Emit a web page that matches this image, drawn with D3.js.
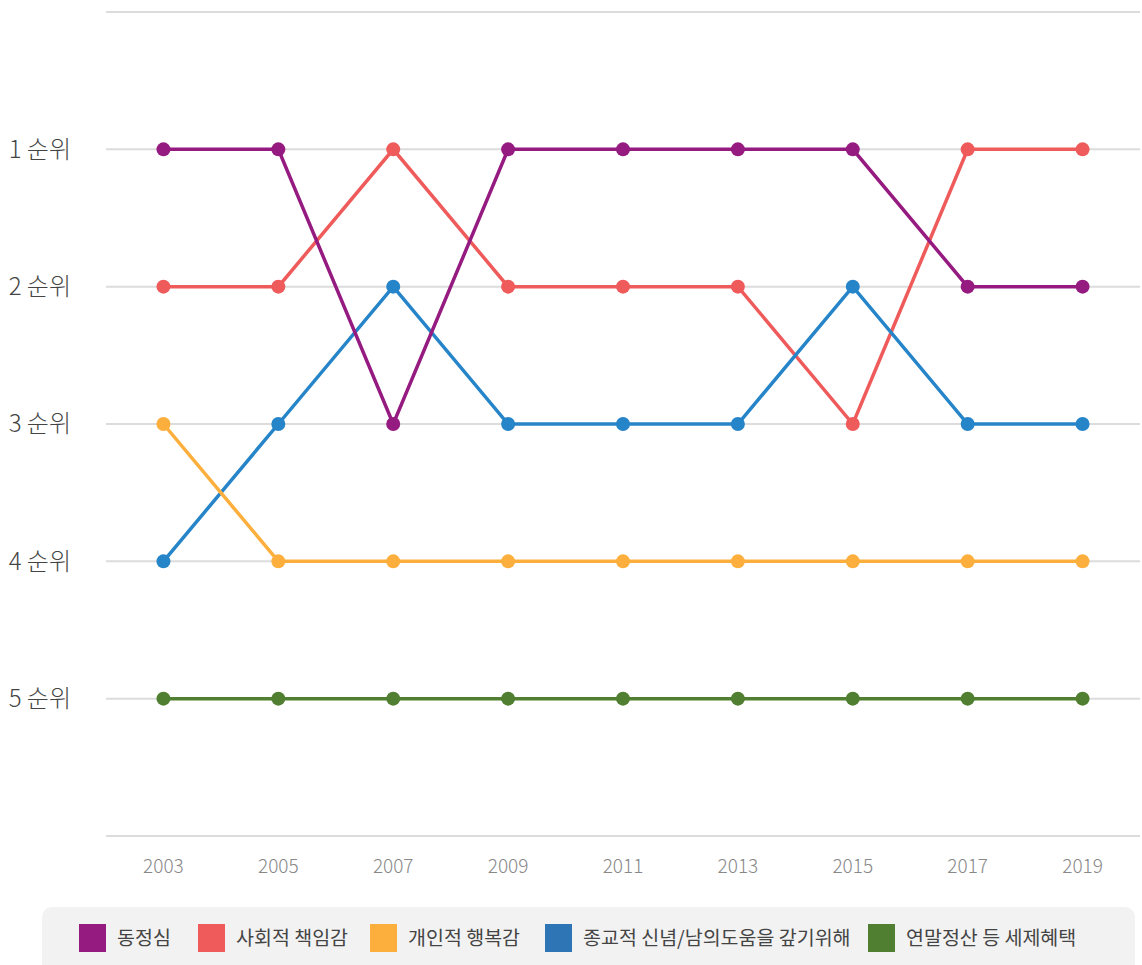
<!DOCTYPE html>
<html>
<head>
  <meta charset="utf-8">
  <script src="https://d3js.org/d3.v7.min.js"></script>
  <style>
    body { margin: 0; background: #fff; font-family: "Noto Sans CJK KR", "Noto Sans", sans-serif; }
  </style>
</head>
<body>
  <svg width="1142" height="965"></svg>

  <script>
    const years = ["2003", "2005", "2007", "2009", "2011", "2013", "2015", "2017", "2019"];
    const rankLabels = ["1 순위", "2 순위", "3 순위", "4 순위", "5 순위"];

    const compassion = [1, 1, 3, 1, 1, 1, 1, 2, 2];
    const responsibility = [2, 2, 1, 2, 2, 2, 3, 1, 1];
    const happiness = [3, 4, 4, 4, 4, 4, 4, 4, 4];
    const religion = [4, 3, 2, 3, 3, 3, 2, 3, 3];
    const taxBenefit = [5, 5, 5, 5, 5, 5, 5, 5, 5];

    const series = [
      { name: "동정심", values: compassion, color: "#951b81", swatch: "#951b81", z: 3 },
      { name: "사회적 책임감", values: responsibility, color: "#ef5a5a", swatch: "#ef5a5a", z: 0 },
      { name: "개인적 행복감", values: happiness, color: "#fcaf3c", swatch: "#fcaf3c", z: 2 },
      { name: "종교적 신념/남의도움을 갚기위해", values: religion, color: "#2684c8", swatch: "#2e75b6", z: 1 },
      { name: "연말정산 등 세제혜택", values: taxBenefit, color: "#507f31", swatch: "#507f31", z: 4 }
    ];

    const svg = d3.select("svg");
    const plotLeft = 106, plotRight = 1140, plotTop = 12, plotBottom = 836;

    const x = d3.scalePoint().domain(years).range([plotLeft, plotRight]).padding(0.5);
    const y = d3.scaleLinear().domain([0, 6]).range([plotTop, plotBottom]);

    // grid lines
    svg.append("g").selectAll("line")
      .data(d3.range(0, 7))
      .enter().append("line")
      .attr("x1", plotLeft).attr("x2", plotRight)
      .attr("y1", d => y(d)).attr("y2", d => y(d))
      .attr("stroke", "#dcdcdc")
      .attr("stroke-width", 2);

    // y labels
    svg.append("g").selectAll("text")
      .data(rankLabels)
      .enter().append("text")
      .attr("x", 71)
      .attr("y", (d, i) => y(i + 1))
      .attr("dy", "0.35em")
      .attr("text-anchor", "end")
      .style("font-size", "24px")
      .style("font-weight", 300)
      .style("fill", "#444")
      .text(d => d);

    // x axis labels
    svg.append("g").selectAll("text")
      .data(years)
      .enter().append("text")
      .attr("x", d => x(d))
      .attr("y", 866)
      .attr("dy", "0.35em")
      .attr("text-anchor", "middle")
      .style("font-size", "19px")
      .style("font-weight", 300)
      .style("fill", "#888")
      .text(d => d);

    const line = d3.line()
      .x((d, i) => x(years[i]))
      .y(d => y(d));

    const ordered = series.slice().sort((a, b) => a.z - b.z);
    const groups = svg.append("g").selectAll("g")
      .data(ordered)
      .enter().append("g");

    groups.append("path")
      .attr("d", d => line(d.values))
      .attr("fill", "none")
      .attr("stroke", d => d.color)
      .attr("stroke-width", 3.5);

    groups.selectAll("circle")
      .data(d => d.values.map((v, i) => ({ v, i, color: d.color })))
      .enter().append("circle")
      .attr("cx", d => x(years[d.i]))
      .attr("cy", d => y(d.v))
      .attr("r", 7)
      .attr("fill", d => d.color);

    // legend
    const legend = svg.append("g");
    legend.append("rect")
      .attr("x", 42).attr("y", 907)
      .attr("width", 1093).attr("height", 80)
      .attr("rx", 10)
      .attr("fill", "#f2f2f2");

    const legendX = [79, 198, 370, 545, 868];
    const items = legend.selectAll("g.item")
      .data(series)
      .enter().append("g")
      .attr("class", "item")
      .attr("transform", (d, i) => `translate(${legendX[i]},924)`);

    items.append("rect")
      .attr("width", 27).attr("height", 28)
      .attr("fill", d => d.swatch);

    items.append("text")
      .attr("x", 38)
      .attr("y", 14)
      .attr("dy", "0.35em")
      .style("font-size", "19.5px")
      .style("fill", "#444")
      .text(d => d.name);
  </script>
</body>
</html>
